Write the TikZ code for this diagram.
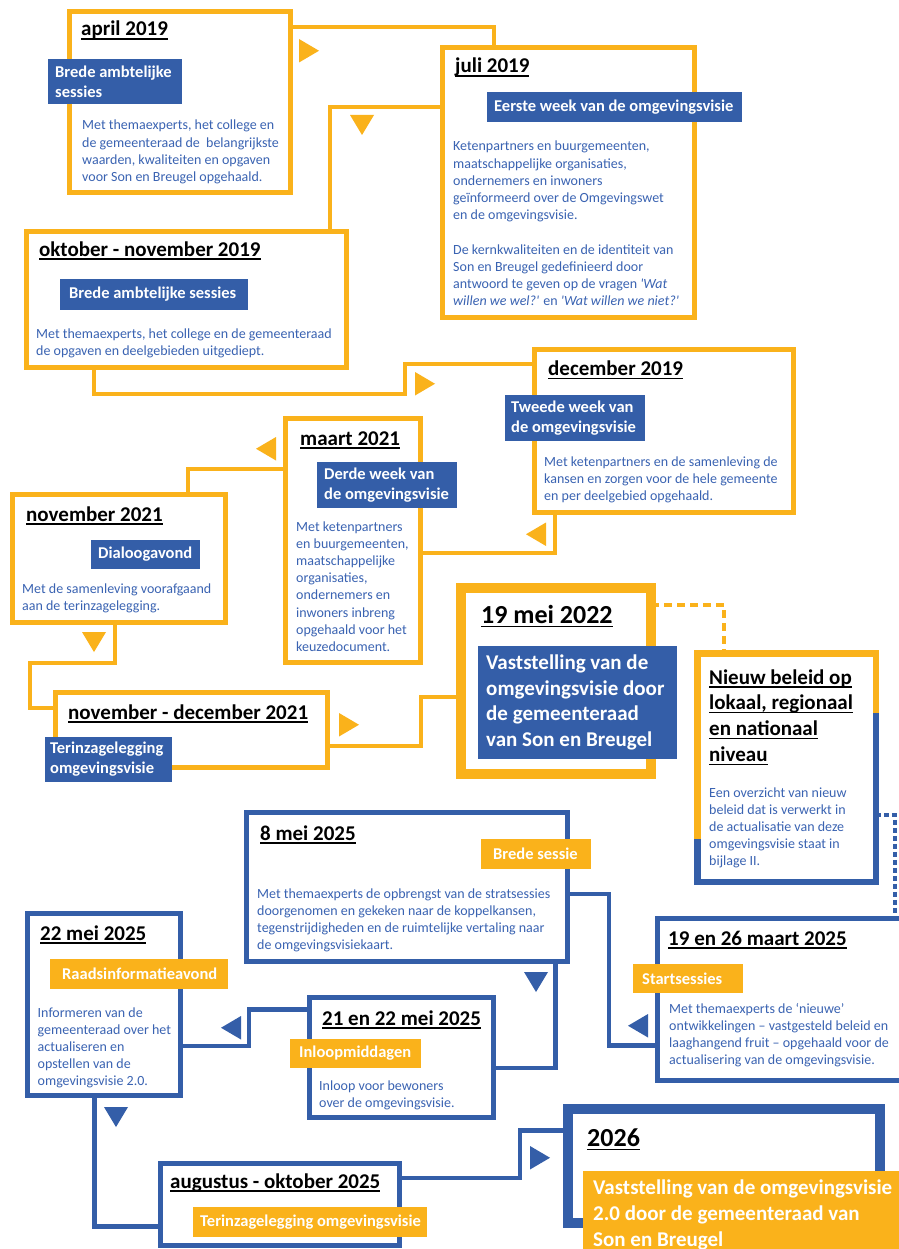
\documentclass[tikz,border=0pt]{standalone}
\usepackage{fontspec}
\setmainfont{Carlito}
\usetikzlibrary{positioning}
\definecolor{oranje}{RGB}{250,178,27}
\definecolor{blauw}{RGB}{52,94,168}
\definecolor{tekstblauw}{RGB}{58,99,178}
\newsavebox{\streepbox}
\newcommand{\streep}[1]{\sbox{\streepbox}{#1}\rlap{\rule[-0.17em]{\wd\streepbox}{0.06em}}\usebox{\streepbox}}
\tikzset{
    kader/.style={
           rectangle,
           inner sep=0pt, outer sep=0pt,
           anchor=north west,
           line width=5pt
           },
    okader/.style={kader, draw=oranje},
    bkader/.style={kader, draw=blauw},
    datum/.style={
           anchor=base west,
           inner sep=0pt,
           align=left,
           font=\fontsize{21}{26}\selectfont\bfseries
           },
    % anker = basislijn van de laatste regel
    tekst/.style={
           anchor=base west,
           inner sep=0pt,
           align=left,
           text=tekstblauw,
           font=\fontsize{14}{17.2}\selectfont
           },
    etiket/.style={
           rectangle,
           inner sep=0pt, outer sep=0pt,
           anchor=north west
           },
    etekst/.style={
           inner sep=0pt,
           align=left,
           text=white,
           font=\fontsize{16.5}{20}\selectfont\bfseries
           },
    overb/.style={draw=oranje, line width=4.5pt},
    bverb/.style={draw=blauw, line width=4.5pt}
}
% driehoekjes
\newcommand{\pijlR}[3]{\fill[#1] (#2,#3) -- ++(20,11.75) -- ++(-20,11.75) -- cycle;}
\newcommand{\pijlL}[3]{\fill[#1] (#2,#3) -- ++(-20,11.75) -- ++(20,11.75) -- cycle;}
\newcommand{\pijlO}[3]{\fill[#1] (#2,#3) -- ++(24,0) -- ++(-12,20) -- cycle;}

\begin{document}
\begin{tikzpicture}[x=1pt, y=-1pt]
\useasboundingbox (0,0) rectangle (898,1249);
\fill[white] (0,0) rectangle (898,1249);

% kaders
\node[okader, minimum width=221, minimum height=181] (apr19) at (69.5,11.5) {};
\node[okader, minimum width=252, minimum height=270] (jul19) at (442.5,47.5) {};
\node[okader, minimum width=320, minimum height=136] (okt19) at (26.5,231.5) {};
\node[okader, minimum width=259, minimum height=163] (dec19) at (534.5,349.5) {};
\node[okader, minimum width=135, minimum height=244] (mrt21) at (285.5,418.5) {};
\node[okader, minimum width=213, minimum height=128] (nov21) at (12.5,494.5) {};
\node[okader, minimum width=272, minimum height=75] (novdec21) at (55.5,692.5) {};
\node[okader, line width=10pt, minimum width=190, minimum height=186] (mei22) at (461,588) {};
\node[kader, minimum width=178.5, minimum height=228.5] (beleid) at (697.25,653.25) {};
\node[bkader, minimum width=321, minimum height=149] (mei8) at (246.5,812.5) {};
\node[bkader, minimum width=260, minimum height=162] (mrt25) at (657.5,918.5) {};
\node[bkader, minimum width=153.5, minimum height=182] (mei22b) at (27,913.5) {};
\node[bkader, minimum width=184, minimum height=120] (mei2122) at (309.5,997.5) {};
\node[bkader, minimum width=239, minimum height=82] (augokt) at (160.5,1163.5) {};
\node[bkader, line width=10pt, minimum width=312, minimum height=114] (j2026) at (568,1109) {};

% half oranje, half blauw
\draw[oranje, line width=6.5pt] ([yshift=-185.75pt]beleid.north west) -- (beleid.north west)
    -- (beleid.north east) -- ([yshift=-59.75pt]beleid.north east);
\draw[blauw, line width=6.5pt] ([yshift=-185.75pt]beleid.north west) -- (beleid.south west)
    -- (beleid.south east) -- ([yshift=-59.75pt]beleid.north east);

% verbindingen
\draw[overb] ([yshift=-15.5pt]apr19.north east) -| ([xshift=51.5pt]jul19.north west);
\draw[overb] ([yshift=-59.5pt]jul19.north west) -| ([xshift=303.5pt]okt19.north west);
\draw[overb] ([xshift=67.5pt]okt19.south west) -- ++(0,26.5) -- ++(311,0) |- ([yshift=-14.5pt]dec19.north west);
\draw[overb] ([xshift=20.5pt]dec19.south west) |- ([yshift=-134.5pt]mrt21.north east);
\draw[overb] ([yshift=-50.5pt]mrt21.north west) -| ([xshift=175.5pt]nov21.north west);
\draw[overb] ([xshift=102.5pt]nov21.south west) -- ++(0,40.5) -- ++(-85,0) |- ([yshift=-15.5pt]novdec21.north west);
\draw[overb] ([yshift=-53.5pt]novdec21.north east) -- ++(93.5,0) |- ([yshift=-109pt]mei22.north west);
\draw[overb, line width=4pt, dash pattern=on 8pt off 5pt] ([yshift=-17pt]mei22.north east) -| ([xshift=26.75pt]beleid.north west);
\draw[bverb, line width=4pt, dash pattern=on 5pt off 3pt] ([yshift=-161.75pt]beleid.north east) -| ([xshift=237.5pt]mrt25.north west);
\draw[bverb] ([yshift=-127pt]mrt25.north west) -- ++(-48.5,0) |- ([yshift=-81.5pt]mei8.north east);
\draw[bverb] ([xshift=309pt]mei8.south west) |- ([yshift=-70.5pt]mei2122.north east);
\draw[bverb] ([yshift=-12pt]mei2122.north west) -- ++(-60.5,0) |- ([yshift=-132.5pt]mei22b.north east);
\draw[bverb] ([xshift=67.5pt]mei22b.south west) |- ([yshift=-63pt]augokt.north west);
\draw[bverb] ([yshift=-14.5pt]augokt.north east) -- ++(120.5,0) |- ([yshift=-21.5pt]j2026.north west);

\pijlR{oranje}{299}{39}
\pijlO{oranje}{350}{115}
\pijlR{oranje}{415}{372}
\pijlL{oranje}{546}{522.5}
\pijlL{oranje}{276}{437}
\pijlO{oranje}{82}{632}
\pijlR{oranje}{339}{713}
\pijlL{blauw}{648}{1014}
\pijlO{blauw}{524}{972}
\pijlL{blauw}{241}{1016}
\pijlO{blauw}{104}{1107}
\pijlR{blauw}{530}{1146}

% etiketten
\node[etiket, fill=blauw, minimum width=134, minimum height=45] (e1) at (48,59) {};
\node[etekst, right=7pt of e1.west] {Brede ambtelijke\\sessies};
\node[etiket, fill=blauw, minimum width=255, minimum height=30] (e2) at (487,92) {};
\node[etekst, right=7pt of e2.west] {Eerste week van de omgevingsvisie};
\node[etiket, fill=blauw, minimum width=188, minimum height=31] (e3) at (60,279) {};
\node[etekst, right=9pt of e3.west] {Brede ambtelijke sessies};
\node[etiket, fill=blauw, minimum width=140, minimum height=46] (e4) at (505,395) {};
\node[etekst, right=6pt of e4.west] {Tweede week van\\de omgevingsvisie};
\node[etiket, fill=blauw, minimum width=140, minimum height=46] (e5) at (317,462) {};
\node[etekst, right=7pt of e5.west] {Derde week van\\de omgevingsvisie};
\node[etiket, fill=blauw, minimum width=109, minimum height=29] (e6) at (91,540) {};
\node[etekst, right=7pt of e6.west] {Dialoogavond};
\node[etiket, fill=blauw, minimum width=127, minimum height=45] (e7) at (45,737) {};
\node[etekst, right=5pt of e7.west] {Terinzagelegging\\omgevingsvisie};
\node[etiket, fill=blauw, minimum width=199, minimum height=113] (e8) at (478,646) {};
\node[etekst, font=\fontsize{21}{25.8}\selectfont\bfseries, right=8pt of e8.west]
    {Vaststelling van de\\omgevingsvisie door\\de gemeenteraad\\van Son en Breugel};
\node[etiket, fill=oranje, minimum width=110, minimum height=30] (e9) at (481,839) {};
\node[etekst, right=12pt of e9.west] {Brede sessie};
\node[etiket, fill=oranje, minimum width=110, minimum height=29] (e10) at (633,964) {};
\node[etekst, right=9pt of e10.west] {Startsessies};
\node[etiket, fill=oranje, minimum width=178, minimum height=30] (e11) at (50,959) {};
\node[etekst, right=12pt of e11.west] {Raadsinformatieavond};
\node[etiket, fill=oranje, minimum width=131, minimum height=29] (e12) at (290,1039) {};
\node[etekst, right=9pt of e12.west] {Inloopmiddagen};
\node[etiket, fill=oranje, minimum width=234, minimum height=30] (e13) at (193,1207) {};
\node[etekst, right=7pt of e13.west] {Terinzagelegging omgevingsvisie};
\node[etiket, fill=oranje, minimum width=330, minimum height=90] (e14) at (583,1171) {};
\node[etekst, font=\fontsize{21}{26}\selectfont\bfseries, below right=8.5pt and 10pt of e14.north west]
    {Vaststelling van de omgevingsvisie\\2.0 door de gemeenteraad van\\Son en Breugel};

% data
\node[datum] (d1) at (81,36) {\streep{april 2019}};
\node[datum] (d2) at (455,73) {\streep{juli 2019}};
\node[datum] (d3) at (39,256) {\streep{oktober - november 2019}};
\node[datum] (d4) at (548,375.5) {\streep{december 2019}};
\node[datum] (d5) at (300,445) {\streep{maart 2021}};
\node[datum] (d6) at (26,521) {\streep{november 2021}};
\node[datum] (d7) at (68,719) {\streep{november - december 2021}};
\node[datum, font=\fontsize{26}{30}\selectfont\bfseries] (d8) at (481,623) {\streep{19 mei 2022}};
\node[datum, font=\fontsize{21}{25.8}\selectfont\bfseries] (d9) at (709,761.4)
    {\streep{Nieuw beleid op}\\\streep{lokaal, regionaal}\\\streep{en nationaal}\\\streep{niveau}};
\node[datum] (d10) at (260,840) {\streep{8 mei 2025}};
\node[datum] (d11) at (668,945) {\streep{19 en 26 maart 2025}};
\node[datum] (d12) at (40,940) {\streep{22 mei 2025}};
\node[datum] (d13) at (322,1025) {\streep{21 en 22 mei 2025}};
\node[datum] (d14) at (170,1188) {\streep{augustus - oktober 2025}};
\node[datum, font=\fontsize{26}{30}\selectfont\bfseries] (d15) at (587,1146) {\streep{2026}};

% teksten
\node[tekst] (t1) at (82,181.6) {Met themaexperts, het college en\\de gemeenteraad de\ \ belangrijkste\\waarden, kwaliteiten en opgaven\\voor Son en Breugel opgehaald.};
\node[tekst] (t2) at (453,305.8) {Ketenpartners en buurgemeenten,\\maatschappelijke organisaties,\\ondernemers en inwoners\\geïnformeerd over de Omgevingswet\\en de omgevingsvisie.\\[17.2pt]De kernkwaliteiten en de identiteit van\\Son en Breugel gedefinieerd door\\antwoord te geven op de vragen \textit{\textquotesingle Wat}\\\textit{willen we wel?\textquotesingle} en \textit{\textquotesingle Wat willen we niet?\textquotesingle}};
\node[tekst] (t3) at (36,355.2) {Met themaexperts, het college en de gemeenteraad\\de opgaven en deelgebieden uitgediept.};
\node[tekst] (t4) at (544,500.4) {Met ketenpartners en de samenleving de\\kansen en zorgen voor de hele gemeente\\en per deelgebied opgehaald.};
\node[tekst] (t5) at (296,651.4) {Met ketenpartners\\en buurgemeenten,\\maatschappelijke\\organisaties,\\ondernemers en\\inwoners inbreng\\opgehaald voor het\\keuzedocument.};
\node[tekst] (t6) at (22,610.2) {Met de samenleving voorafgaand\\aan de terinzagelegging.};
\node[tekst] (t7) at (709,865.8) {Een overzicht van nieuw\\beleid dat is verwerkt in\\de actualisatie van deze\\omgevingsvisie staat in\\bijlage II.};
\node[tekst] (t8) at (257,949.6) {Met themaexperts de opbrengst van de stratsessies\\doorgenomen en gekeken naar de koppelkansen,\\tegenstrijdigheden en de ruimtelijke vertaling naar\\de omgevingsvisiekaart.};
\node[tekst] (t9) at (669,1064.6) {Met themaexperts de ‘nieuwe’\\ontwikkelingen – vastgesteld beleid en\\laaghangend fruit – opgehaald voor de\\actualisering van de omgevingsvisie.};
\node[tekst] (t10) at (37.5,1085.8) {Informeren van de\\gemeenteraad over het\\actualiseren en\\opstellen van de\\omgevingsvisie 2.0.};
\node[tekst] (t11) at (319,1107.2) {Inloop voor bewoners\\over de omgevingsvisie.};
\end{tikzpicture}
\end{document}
